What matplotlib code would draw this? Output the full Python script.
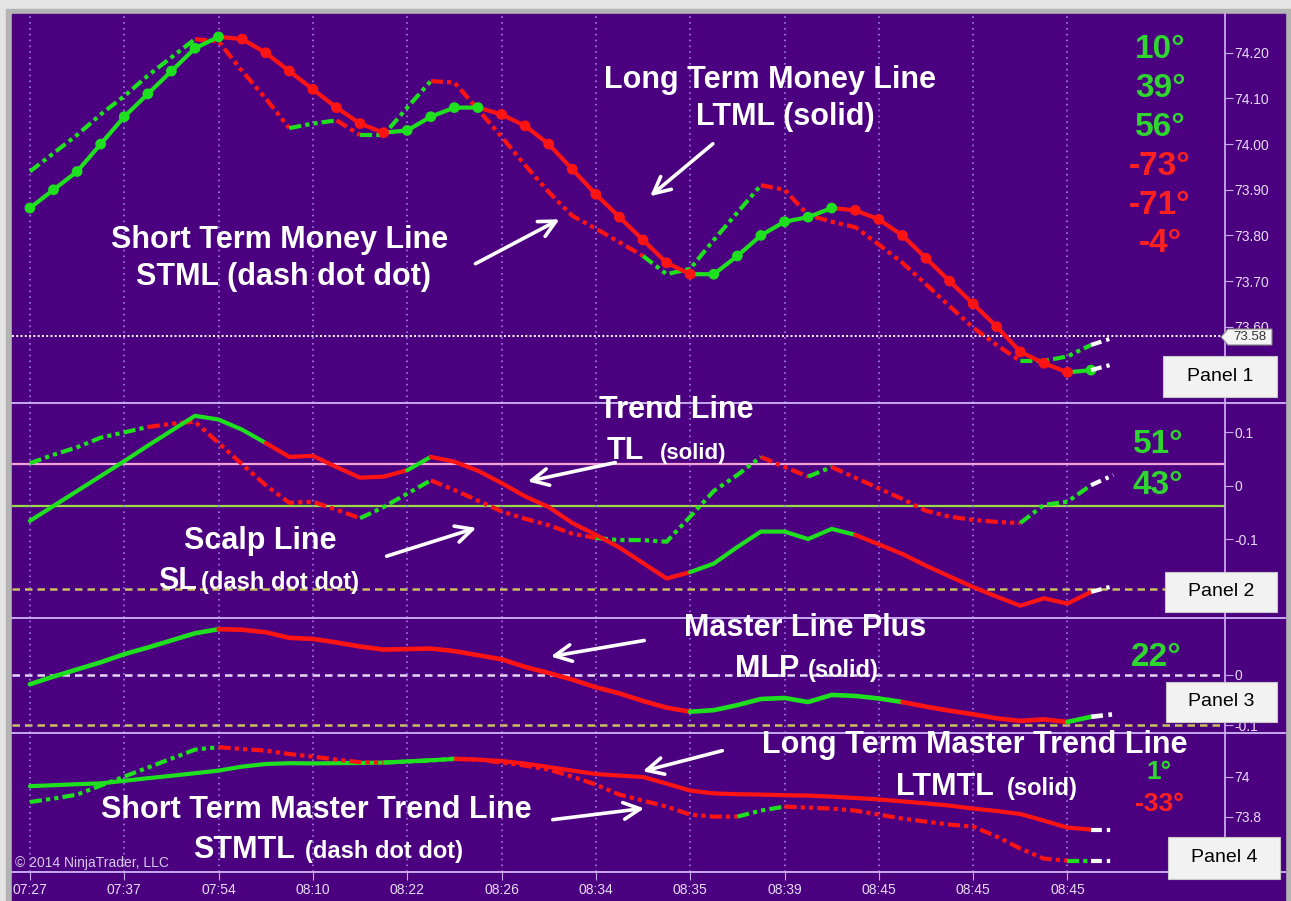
import numpy as np
import matplotlib
matplotlib.use('Agg')
import matplotlib.pyplot as plt
from matplotlib.patches import Rectangle, Polygon, FancyArrowPatch

plt.rcParams['font.family'] = ['Liberation Sans', 'DejaVu Sans']

W, H = 1291, 901

## ---------------- data (one value per bar) ----------------
bars = np.arange(46)
time_labels = ['07:27', '07:37', '07:54', '08:10', '08:22', '08:26',
               '08:34', '08:35', '08:39', '08:45', '08:45', '08:45']

# Panel 1 : money lines
ltml = [73.86, 73.90, 73.94, 74.00, 74.06, 74.11, 74.16, 74.21, 74.235,
        74.23, 74.20, 74.16, 74.12, 74.08, 74.045, 74.025,
        74.03, 74.06, 74.08, 74.08,
        74.065, 74.04, 74.00, 73.945, 73.89, 73.84, 73.79, 73.74, 73.715,
        73.715, 73.755, 73.80, 73.83, 73.84, 73.86,
        73.855, 73.835, 73.80, 73.75, 73.70, 73.65, 73.60, 73.545, 73.52, 73.50,
        73.505]
ltml_col = 'g'*9 + 'r'*7 + 'g'*4 + 'r'*9 + 'g'*6 + 'r'*10 + 'g'
ltml_next = 73.518

stml = [73.94, 73.98, 74.02, 74.065, 74.105, 74.15, 74.19, 74.23,
        74.225, 74.16, 74.10, 74.035,
        74.045, 74.052, 74.02, 74.02, 74.08, 74.138,
        74.135, 74.076, 74.016, 73.954, 73.895, 73.843, 73.815, 73.785, 73.755,
        73.715, 73.727, 73.79, 73.85, 73.91,
        73.90, 73.845, 73.83, 73.818, 73.78, 73.74, 73.693, 73.645, 73.598,
        73.56, 73.525, 73.525, 73.535, 73.56]
stml_col = 'g'*8 + 'r'*4 + 'g'*2 + 'r' + 'g'*3 + 'r'*9 + 'g'*5 + 'r'*11 + 'g'*3
stml_next = 73.576
last_price = 73.58

# Panel 2 : trend line / scalp line
tl = [-0.066, -0.038, -0.01, 0.018, 0.046, 0.075, 0.103, 0.131, 0.124, 0.105,
      0.08, 0.054, 0.056, 0.035, 0.015, 0.017, 0.029, 0.054, 0.045, 0.028,
      0.005, -0.02, -0.04, -0.07, -0.092, -0.116, -0.145, -0.174, -0.162,
      -0.146, -0.115, -0.086, -0.086, -0.1, -0.081, -0.092,
      -0.11, -0.128, -0.15, -0.17, -0.19, -0.208, -0.225, -0.211, -0.221, -0.199]
tl_col = 'g'*11 + 'r'*6 + 'g' + 'r'*11 + 'g'*7 + 'r'*10
tl_next = -0.188

sl = [0.042, 0.058, 0.072, 0.090, 0.100, 0.110, 0.116, 0.12, 0.08, 0.04,
      0.001, -0.032, -0.03, -0.045, -0.061, -0.04, -0.015, 0.01, -0.008, -0.028,
      -0.048, -0.062, -0.074, -0.09, -0.098, -0.102, -0.102, -0.105, -0.058, -0.01,
      0.02, 0.054, 0.035, 0.017, 0.035, 0.015, -0.005, -0.025, -0.047, -0.058,
      -0.064, -0.068, -0.07, -0.036, -0.03, 0.001]
sl_col = 'g'*6 + 'r'*9 + 'g'*3 + 'r'*7 + 'g'*7 + 'r'*2 + 'g' + 'r'*8 + 'g'*3
sl_next = 0.02
tl_upper, tl_lower, p2_floor = 0.041, -0.038, -0.194

# Panel 3 : master line plus
mlp = [-0.019, -0.004, 0.010, 0.024, 0.040, 0.053, 0.067, 0.081, 0.089,
       0.088, 0.083, 0.072, 0.070, 0.063, 0.055, 0.049, 0.050, 0.051, 0.046,
       0.038, 0.030, 0.015, 0.003, -0.010, -0.025, -0.037, -0.052, -0.065, -0.073,
       -0.070, -0.060, -0.048, -0.046, -0.054, -0.040, -0.042, -0.047, -0.054,
       -0.063, -0.071, -0.078, -0.086, -0.091, -0.088, -0.093,
       -0.083]
mlp_col = 'g'*9 + 'r'*20 + 'g'*9 + 'r'*7 + 'g'
mlp_next = -0.078
p3_zero, p3_floor = 0.0, -0.1

# Panel 4 : master trend lines
ltmtl = [73.952, 73.957, 73.962, 73.966, 73.979, 73.992, 74.004, 74.017, 74.03,
         74.05, 74.063, 74.067, 74.066, 74.067, 74.068, 74.07, 74.076, 74.082, 74.088,
         74.085, 74.078, 74.065, 74.048, 74.03, 74.013, 74.005, 73.998, 73.965, 73.93,
         73.916, 73.912, 73.91, 73.907, 73.905, 73.90, 73.893, 73.886, 73.876, 73.866,
         73.855, 73.84, 73.828, 73.813, 73.78, 73.745, 73.735]
ltmtl_col = 'g'*19 + 'r'*27
ltmtl_next = 73.735

stmtl = [73.873, 73.89, 73.91, 73.955, 74.0, 74.045, 74.09, 74.135, 74.147,
         74.138, 74.13, 74.113, 74.10, 74.085, 74.072, 74.07,
         74.075, 74.08, 74.09,
         74.085, 74.07, 74.055, 74.035, 74.00, 73.96, 73.91, 73.88, 73.85, 73.81,
         73.80, 73.80,
         73.83, 73.85,
         73.845, 73.84, 73.83, 73.81, 73.79, 73.775, 73.76, 73.75, 73.70, 73.64,
         73.59, 73.58,
         73.58]
stmtl_col = 'g'*9 + 'r'*7 + 'g'*3 + 'r'*12 + 'g'*2 + 'r'*12 + 'g'
stmtl_next = 73.58

# angle read-outs
p1_angles = ['10°', '39°', '56°', '-73°', '-71°', '-4°']
p2_angles = ['51°', '43°']
p3_angles = ['22°']
p4_angles = ['1°', '-33°']

## ---------------- style ----------------
PURPLE = '#4b0080'
LAV = '#c9a9f2'
TXT = '#e6dcf6'
COL = {'g': '#1fe01f', 'r': '#ff1414'}
TCOL = {'g': '#2fd62f', 'r': '#ff2020'}
DDD = (0, (2.9, 1, 1, 1, 1, 1))   # dash dot dot


def fx(x):
    return x / W


def fy(y):
    return 1 - y / H


def panel_axes(fig, top, bottom):
    ax = fig.add_axes([fx(12), fy(bottom), fx(1225) - fx(12), (bottom - top) / H])
    ax.set_facecolor('none')
    for s in ['top', 'left', 'bottom']:
        ax.spines[s].set_visible(False)
    ax.spines['right'].set_color(LAV)
    ax.spines['right'].set_linewidth(1.3)
    ax.set_xlim(-0.76, 50.68)
    ax.set_xticks(np.arange(0, 45, 4))
    ax.grid(axis='x', color='#a37be6', ls=(0, (1, 2.5)), lw=1.2, zorder=0)
    ax.yaxis.tick_right()
    ax.tick_params(axis='y', direction='out', length=6, color=LAV,
                   labelcolor=TXT, labelsize=10, pad=1)
    ax.tick_params(axis='x', length=0, labelbottom=False)
    return ax


def draw_runs(ax, y, cols, nxt, ls='-', lw=3.0, dots=False):
    ''' plot a line whose segments change colour, segment (i-1,i) gets cols[i] '''
    y = np.asarray(y)
    n = len(y)
    i = 1
    while i < n:
        j = i
        while j + 1 < n and cols[j + 1] == cols[i]:
            j += 1
        ax.plot(bars[i - 1:j + 1], y[i - 1:j + 1], color=COL[cols[i]], ls=ls, lw=lw,
                solid_capstyle='round', zorder=3)
        i = j + 1
    if dots:
        ax.scatter(bars, y, s=60, c=[COL[c] for c in cols], zorder=4, linewidths=0)
    ## white projection for the bar being built
    ax.plot([bars[-1], bars[-1] + 0.95], [y[-1], nxt], color='white',
            ls=(0, (2.6, 1.2, 0.8, 1.2)), lw=lw, zorder=5)


fig = plt.figure(figsize=(W / 100, H / 100), dpi=100)
fig.patch.set_facecolor('#e4e4e4')
fig.add_artist(Rectangle((fx(6), 0), fx(1291) - fx(6), fy(9), transform=fig.transFigure,
                         color='#b4b4b4', zorder=-3))
fig.add_artist(Rectangle((fx(12), 0), fx(1285) - fx(12), fy(14), transform=fig.transFigure,
                         color=PURPLE, zorder=-2))

ax1 = panel_axes(fig, 14, 402.5)
ax2 = panel_axes(fig, 403, 618)
ax3 = panel_axes(fig, 618, 732.5)
ax4 = panel_axes(fig, 733, 872)

## panel 1
ax1.set_ylim(73.434, 74.285)
ax1.set_yticks([74.2, 74.1, 74.0, 73.9, 73.8, 73.7, 73.6])
ax1.set_yticklabels(['74.20', '74.10', '74.00', '73.90', '73.80', '73.70', '73.60'])
ax1.axhline(last_price, color='white', ls=(0, (1, 1.2)), lw=1.4, zorder=1)
draw_runs(ax1, stml, stml_col, stml_next, ls=DDD)
draw_runs(ax1, ltml, ltml_col, ltml_next, dots=True)

## panel 2
ax2.set_ylim(-0.248, 0.155)
ax2.set_yticks([0.1, 0, -0.1])
ax2.set_yticklabels(['0.1', '0', '-0.1'])
ax2.axhline(tl_upper, color='#f2a4d6', lw=1.6, zorder=1)
ax2.axhline(tl_lower, color='#9ad84a', lw=1.6, zorder=1)
ax2.axhline(p2_floor, color='#c8c25c', ls=(0, (3, 2)), lw=1.8, zorder=1)
draw_runs(ax2, sl, sl_col, sl_next, ls=DDD)
draw_runs(ax2, tl, tl_col, tl_next)

## panel 3
ax3.set_ylim(-0.1138, 0.111)
ax3.set_yticks([0, -0.1])
ax3.set_yticklabels(['0', '-0.1'])
ax3.axhline(p3_zero, color='#e6d8f6', ls=(0, (3, 2)), lw=1.8, zorder=1)
ax3.axhline(p3_floor, color='#c8c25c', ls=(0, (3, 2)), lw=1.8, zorder=1)
draw_runs(ax3, mlp, mlp_col, mlp_next, lw=3.3)

## panel 4
ax4.set_ylim(73.523, 74.218)
ax4.set_yticks([74.0, 73.8])
ax4.set_yticklabels(['74', '73.8'])
draw_runs(ax4, ltmtl, ltmtl_col, ltmtl_next)
draw_runs(ax4, stmtl, stmtl_col, stmtl_next, ls=DDD)
ax4.set_xticks(np.arange(0, 45, 4))
ax4.set_xticklabels(time_labels)
ax4.tick_params(axis='x', length=6, color=LAV, labelcolor=TXT, labelsize=10,
                labelbottom=True, pad=2)

## panel separators
for yy in [402.5, 618, 732.5, 872]:
    fig.add_artist(plt.Line2D([fx(12), fx(1285)], [fy(yy), fy(yy)], color=LAV, lw=1.4,
                              transform=fig.transFigure, zorder=6))

## last price marker (covers the 73.60 tick label like the original)
fig.add_artist(Polygon([(fx(1221), fy(337)), (fx(1228), fy(329)), (fx(1272), fy(329)),
                        (fx(1272), fy(345)), (fx(1228), fy(345))], closed=True,
                       transform=fig.transFigure, facecolor='#f4f4f4',
                       edgecolor='#888888', lw=0.8, zorder=12))
fig.text(fx(1250), fy(337.5), '73.58', ha='center', va='center', fontsize=9.5,
         color='#333333', zorder=13)

## panel boxes
for name, (x0, y0, x1, y1) in [('Panel 1', (1163, 356, 1277, 397)),
                               ('Panel 2', (1165, 572, 1277, 612)),
                               ('Panel 3', (1166, 682, 1277, 722)),
                               ('Panel 4', (1168, 837, 1280, 879))]:
    fig.add_artist(Rectangle((fx(x0), fy(y1)), fx(x1) - fx(x0), (y1 - y0) / H,
                             transform=fig.transFigure, facecolor='#f2f2f2',
                             edgecolor='#c8c8c8', lw=0.8, zorder=12))
    fig.text(fx((x0 + x1) / 2), fy((y0 + y1) / 2), name, ha='center', va='center',
             fontsize=14, color='black', zorder=13)

## angle read-outs
for k, a in enumerate(p1_angles):
    fig.text(fx(1160), fy(50 + k * 38.8), a, ha='center', va='center', fontsize=24,
             fontweight='bold', color=TCOL['r' if a.startswith('-') else 'g'], zorder=9)
for k, a in enumerate(p2_angles):
    fig.text(fx(1158), fy(445 + k * 40), a, ha='center', va='center', fontsize=24,
             fontweight='bold', color=TCOL['g'], zorder=9)
fig.text(fx(1156), fy(658), p3_angles[0], ha='center', va='center', fontsize=24,
         fontweight='bold', color=TCOL['g'], zorder=9)
for k, a in enumerate(p4_angles):
    fig.text(fx(1159), fy(772 + k * 32), a, ha='center', va='center', fontsize=19,
             fontweight='bold', color=TCOL['r' if a.startswith('-') else 'g'], zorder=9)


## annotations
def label(x, y, s, size=22, ha='center', va='center'):
    fig.text(fx(x), fy(y), s, ha=ha, va=va, fontsize=size, fontweight='bold',
             color='white', zorder=9)


def arrow(tail, tip):
    fig.add_artist(FancyArrowPatch((fx(tail[0]), fy(tail[1])), (fx(tip[0]), fy(tip[1])),
                                   arrowstyle='->', mutation_scale=30, lw=2.6,
                                   color='white', transform=fig.transFigure, zorder=9))


label(770, 80, 'Long Term Money Line')
label(785, 117, 'LTML (solid)')
arrow((715, 142), (648, 198))
label(280, 240, 'Short Term Money Line')
label(283, 277, 'STML (dash dot dot)')
arrow((473, 265), (562, 218))

label(676, 410, 'Trend Line')
label(607, 459, 'TL', ha='left', va='baseline')
label(660, 459, '(solid)', size=16, ha='left', va='baseline')
arrow((618, 462), (525, 482))
label(260, 541, 'Scalp Line')
label(158, 589, 'SL', ha='left', va='baseline')
label(201, 589, '(dash dot dot)', size=17, ha='left', va='baseline')
arrow((384, 557), (479, 527))

label(805, 628, 'Master Line Plus')
label(735, 677, 'MLP', ha='left', va='baseline')
label(808, 677, '(solid)', size=17, ha='left', va='baseline')
arrow((647, 640), (548, 657))

label(975, 745, 'Long Term Master Trend Line')
label(896, 795, 'LTMTL', ha='left', va='baseline')
label(1007, 795, '(solid)', size=17, ha='left', va='baseline')
arrow((725, 750), (640, 772))
label(316, 810, 'Short Term Master Trend Line')
label(193, 858, 'STMTL', ha='left', va='baseline')
label(305, 858, '(dash dot dot)', size=17, ha='left', va='baseline')
arrow((550, 820), (647, 808))

fig.text(fx(15), fy(863), '© 2014 NinjaTrader, LLC', ha='left', va='center',
         fontsize=10, color='#d6cae8', zorder=9)

fig.savefig('out.png', dpi=100, facecolor=fig.get_facecolor())
